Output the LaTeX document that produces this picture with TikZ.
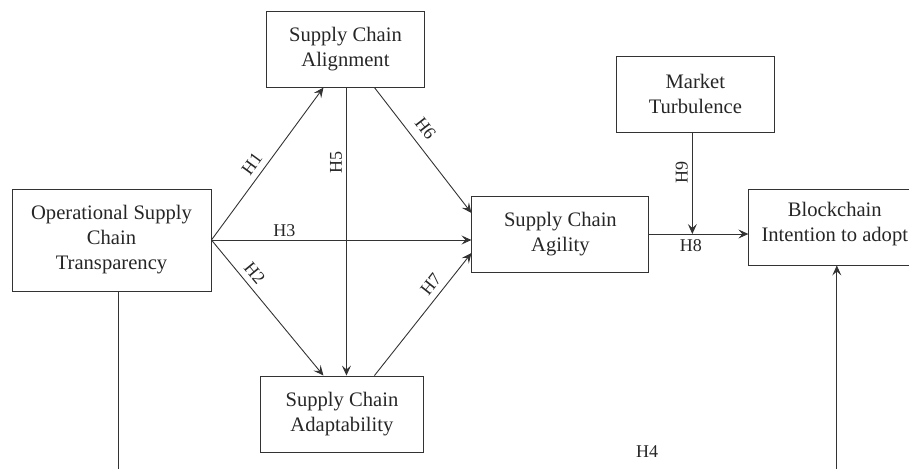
\documentclass[tikz,border=0pt]{standalone}
\usepackage{fontspec}
\setmainfont{Liberation Serif}
\usepackage{tikz}
\usetikzlibrary{arrows.meta,shapes,positioning}

\tikzset{
  box/.style={draw=black!80, line width=0.9pt, align=center, inner sep=0pt, minimum height=76pt, text=black!85, font=\fontsize{20.6}{25}\selectfont},
  hyp/.style={text=black!85, inner sep=2pt, font=\fontsize{18}{21}\selectfont},
  link/.style={draw=black!80, line width=0.9pt, -{Stealth[length=10pt,width=9pt,inset=4pt]}}
}

\begin{document}
\begin{tikzpicture}[x=1pt, y=-1pt]
      \useasboundingbox (0,0) rectangle (909,468);
      \clip (0,0) rectangle (909,468);

      \node[box, minimum width=199pt, minimum height=102pt] (osct) at (111.5,240) {Operational Supply\\Chain\\Transparency};
      \node[box, minimum width=177pt] (agil) [right=260pt of osct, yshift=6pt] {Supply Chain\\Agility};
      \node[box, minimum width=172pt] (bci) [right=99pt of agil, yshift=7pt] {Blockchain\\Intention to adopt\\[-14pt]\mbox{}};
      \node[box, minimum width=158pt] (mkt) [above=63pt of agil.north east, xshift=46pt] {Market\\Turbulence};
      \node[box, minimum width=158pt] (align) [above=108pt of agil.north west, xshift=-126pt] {Supply Chain\\Alignment};
      \node[box, minimum width=163pt] (adapt) [below=288pt of align, xshift=-3.5pt] {Supply Chain\\Adaptability};

      \coordinate (m) at ([xshift=-3pt]mkt.south);

      \draw[link] (osct.east) -- ([xshift=-22pt]align.south) node[hyp, pos=0.45, sloped, above=4pt] {H1};
      \draw[link] (osct.east) -- ([xshift=-18.5pt]adapt.north) node[hyp, pos=0.3, sloped, above=4pt] {H2};
      \draw[link] (osct.east) -- (agil.west |- osct.east) node[hyp, pos=0.28, above=1pt] {H3};
      \draw[link] ([xshift=1pt]align.south) -- ([xshift=4.5pt]adapt.north) node[hyp, pos=0.26, anchor=south, rotate=90, yshift=2pt] {H5};
      \draw[link] ([xshift=29pt]align.south) -- ([yshift=21pt]agil.west) node[hyp, pos=0.4, sloped, above=7pt] {H6};
      \draw[link] ([xshift=32.5pt]adapt.north) -- ([yshift=-19pt]agil.west) node[hyp, pos=0.68, sloped, above=4pt] {H7};
      \draw[link] (agil.east) -- (bci.west |- agil.east) node[hyp, pos=0.42, below=3pt] {H8};
      \draw[link] (m) -- (m |- agil.east) node[hyp, pos=0.39, anchor=south, rotate=90, yshift=2pt] {H9};
      \draw[link] ([xshift=6.5pt]osct.south) -- ++(0,200) -| ([xshift=2pt]bci.south);

      \node[hyp] (h4) at (647,452) {H4};
\end{tikzpicture}
\end{document}
